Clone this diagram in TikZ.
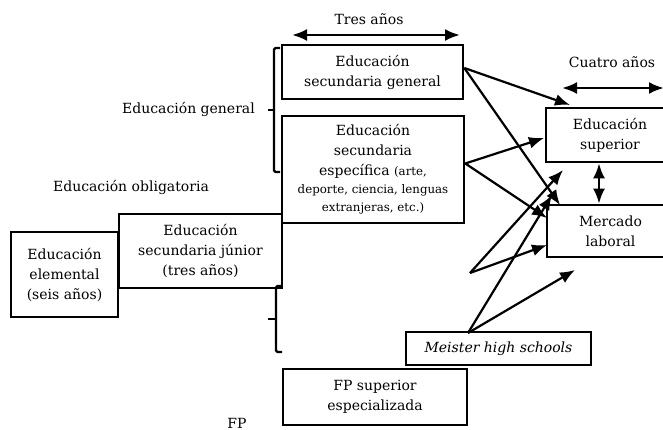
\documentclass[tikz,border=0pt]{standalone}
\usepackage{fontspec}
\setmainfont{DejaVu Serif}
\usetikzlibrary{arrows.meta,calc}
\tikzset{
  box/.style={draw, line width=2.6pt, rectangle, inner sep=0pt, align=center,
    font=\fontsize{14}{20}\selectfont},
  lbl/.style={inner sep=0pt, font=\fontsize{14}{20}\selectfont},
  arr/.style={line width=2.2pt, -{Latex[length=15pt,width=12pt]}},
  darr/.style={line width=2.6pt, {Latex[length=15pt,width=12pt]}-{Latex[length=15pt,width=12pt]}},
  brace/.style={line width=2.4pt, rounded corners=1.5pt}
}
\newcommand{\smalltxt}{\fontsize{11.8}{18}\selectfont}
\begin{document}
\begin{tikzpicture}[x=1pt,y=-1pt]
\useasboundingbox (0,0) rectangle (663,430);
% boxes
\node[box, minimum width=181pt, minimum height=54pt] (gen) at (372.5,72) {Educación\\secundaria general};
\node[box, minimum width=182pt, minimum height=107pt] (esp) at (373,169.5)
  {Educación\\secundaria\\específica {\smalltxt (arte,}\\[-2pt]
   {\smalltxt deporte, ciencia, lenguas}\\[-2pt]
   {\smalltxt extranjeras, etc.)}};
\node[box, minimum width=163pt, minimum height=74pt] (jun) at (200.5,251) {Educación\\secundaria júnior\\(tres años)};
\node[box, minimum width=107pt, minimum height=85pt] (ele) at (64.5,274.5) {Educación\\elemental\\(seis años)};
\node[box, minimum width=185pt, minimum height=33pt] (meis) at (498.5,348.5) {\itshape Meister high schools};
\node[box, minimum width=184pt, minimum height=56pt] (fps) at (375,397) {FP superior\\especializada};
\node[box, minimum width=128pt, minimum height=54pt] (sup) at (610,135) {Educación\\superior};
\node[box, minimum width=127pt, minimum height=52pt] (lab) at (610.5,231) {Mercado\\laboral};
% labels
\node[lbl] (tres) at (369,19) {Tres años};
\node[lbl] (cuatro) at (612,62) {Cuatro años};
\node[lbl, anchor=east] (lgen) at (255,109) {Educación general};
\node[lbl] (lobl) at (131,187) {Educación obligatoria};
\node[lbl, anchor=base] (lfp) at (237,428) {FP};
% duration arrows
\coordinate (t1) at (292,35); \coordinate (t2) at (460,35);
\draw[darr] (t1) -- (t2);
\coordinate (c1) at (562,88); \coordinate (c2) at (664,88);
\draw[darr] (c1) -- (c2);
\draw[darr] ([xshift=-11pt]sup.south) -- ([xshift=-11.5pt]lab.north);
% braces
\coordinate (b1) at (274,110);
\draw[brace] (280,48) -- (274,48) -- (274,172) -- (280,172);
\draw[brace] (b1) -- (268,110);
\coordinate (b2) at (276,319);
\draw[brace] (282,286) -- (276,286) -- (276,352) -- (282,352);
\draw[brace] (b2) -- (268,319);
% flow arrows
\coordinate (g0) at ([yshift=4pt]gen.east);
\coordinate (e0) at ([yshift=6pt]esp.east);
\coordinate (p0) at (470,273);
\coordinate (m0) at (468,333);
\coordinate (s1) at (570,105);
\coordinate (l1) at (560,205);
\coordinate (s2) at (544,138);
\coordinate (l2) at (547,218);
\coordinate (s3) at (563,170);
\coordinate (l3) at (547,245);
\coordinate (s4) at (552,195);
\coordinate (l4) at (575,270);
\draw[arr] (g0) -- (s1);
\draw[arr] (g0) -- (l1);
\draw[arr] (e0) -- (s2);
\draw[arr] (e0) -- (l2);
\draw[arr] (p0) -- (s3);
\draw[arr] (p0) -- (l3);
\draw[arr] (m0) -- (s4);
\draw[arr] (m0) -- (l4);
\end{tikzpicture}
\end{document}
